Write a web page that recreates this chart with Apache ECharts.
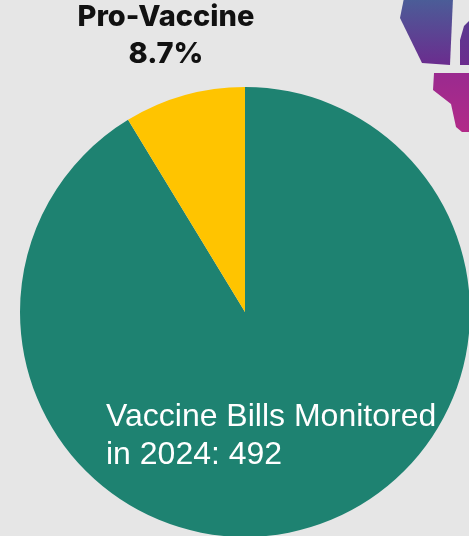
<!DOCTYPE html>
<html><head><meta charset="utf-8">
<script src="https://cdn.jsdelivr.net/npm/echarts@6/dist/echarts.min.js"></script>
<style>html,body{margin:0;padding:0;background:#e6e6e6;}#c{width:469px;height:536px;}</style>
</head><body><div id="c"></div>
<script>
const categories = ['Other Vaccine Bills', 'Pro-Vaccine'];
const shares = [91.3, 8.7];
const totalBills = 492;
const colors = ['#1e8271', '#ffc400'];

const chart = echarts.init(document.getElementById('c'), null, {renderer: 'canvas'});
const grad = (c1, c2) => new echarts.graphic.LinearGradient(0, 0, 0, 1, [{offset: 0, color: c1}, {offset: 1, color: c2}]);
chart.setOption({
  backgroundColor: '#e6e6e6',
  animation: false,
  graphic: [
    {type: 'polygon', shape: {points: [[404,-2],[400,18],[422,63],[450,65],[453,-2]]}, style: {fill: grad('#4a5e98', '#6b2c8e'), lineJoin: 'round'}},
    {type: 'polygon', shape: {points: [[464,26],[460,40],[460,65],[470,65],[470,20]]}, style: {fill: grad('#5a3a90', '#6c2c8e')}},
    {type: 'polygon', shape: {points: [[434,73],[433,90],[451,104],[456,127],[462,132],[470,132],[470,73]]}, style: {fill: grad('#9a2a8f', '#b22a88')}},
    {type: 'text', style: {text: 'Pro-Vaccine\n' + shares[1] + '%', x: 166, y: -1, textAlign: 'center', font: '800 29px Inter, "Open Sans", sans-serif', fill: '#111', lineHeight: 37}},
    {type: 'text', z: 10, style: {text: 'Vaccine Bills Monitored\nin 2024: ' + totalBills, x: 106, y: 398, font: '32px "Liberation Sans", Arial, sans-serif', fill: '#ffffff', lineHeight: 38}}
  ],
  series: [{
    type: 'pie',
    center: [245, 312],
    radius: 225,
    startAngle: 90,
    clockwise: true,
    label: {show: false},
    labelLine: {show: false},
    emphasis: {disabled: true},
    itemStyle: {borderWidth: 0},
    data: categories.map((n, i) => ({name: n, value: shares[i], itemStyle: {color: colors[i]}}))
  }]
});
</script></body></html>
